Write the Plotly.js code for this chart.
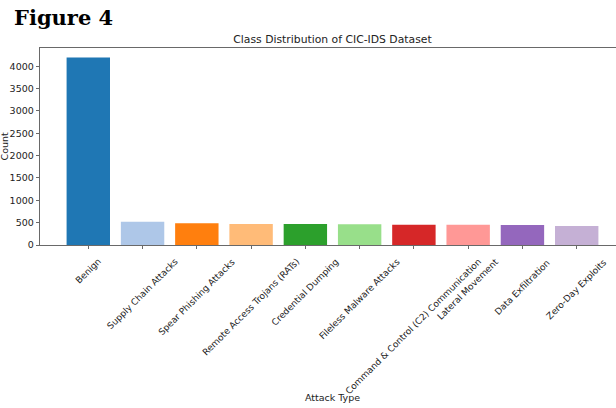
<!DOCTYPE html>
<html>
<head>
<meta charset="utf-8">
<script src="https://cdn.plot.ly/plotly-3.0.1.min.js"></script>
<style>
html, body { margin: 0; padding: 0; width: 616px; height: 408px; overflow: hidden; background: #fff; }
#chart { width: 640px; height: 408px; }
</style>
</head>
<body>
<div id="chart"></div>
<script>
const categories = [
  "Benign",
  "Supply Chain Attacks",
  "Spear Phishing Attacks",
  "Remote Access Trojans (RATs)",
  "Credential Dumping",
  "Fileless Malware Attacks",
  "Command & Control (C2) Communication",
  "Lateral Movement",
  "Data Exfiltration",
  "Zero-Day Exploits"
];
const counts = [4200, 520, 485, 470, 468, 465, 455, 452, 450, 425];
const barColors = ["#1f77b4", "#aec7e8", "#ff7f0e", "#ffbb78", "#2ca02c",
                   "#98df8a", "#d62728", "#ff9896", "#9467bd", "#c5b0d5"];
const yTicks = [0, 500, 1000, 1500, 2000, 2500, 3000, 3500, 4000];

const W = 640, H = 408;
const mL = 40, mR = 15, mT = 48, mB = 163;
const plotW = W - mL - mR;
const plotH = H - mT - mB;
const font = "DejaVu Sans, sans-serif";

const tickAnnotations = categories.map((c, i) => ({
  x: i, xref: "x",
  y: -9 / plotH, yref: "paper",
  text: c, showarrow: false,
  textangle: -45,
  xanchor: "center", yanchor: "top",
  font: { family: font, size: 9, color: "#222" }
}));

const data = [{
  type: "bar",
  x: categories.map((c, i) => i),
  y: counts,
  width: 0.8,
  marker: { color: barColors, line: { width: 0 } },
  hoverinfo: "x+y"
}];

const layout = {
  width: W, height: H,
  margin: { l: mL, r: mR, t: mT, b: mB, pad: 0 },
  paper_bgcolor: "#fff", plot_bgcolor: "#fff",
  showlegend: false,
  font: { family: font, color: "#222" },
  title: {
    text: "Class Distribution of CIC-IDS Dataset",
    font: { family: font, size: 10.8, color: "#222" },
    x: (mL + plotW / 2) / W, xanchor: "center",
    y: 1 - 39 / H, yanchor: "middle"
  },
  xaxis: {
    range: [-0.89, 9.89],
    tickmode: "array", tickvals: categories.map((c, i) => i),
    showticklabels: false,
    ticks: "outside", ticklen: 3.5, tickwidth: 0.8, tickcolor: "#444",
    showline: true, linecolor: "#444", linewidth: 0.8, mirror: true,
    showgrid: false, zeroline: false,
    title: { text: "Attack Type", font: { family: font, size: 9.5, color: "#222" }, standoff: 145 }
  },
  yaxis: {
    range: [0, 4410],
    tickmode: "array", tickvals: yTicks,
    ticks: "outside", ticklen: 3.5, tickwidth: 0.8, tickcolor: "#444",
    tickfont: { family: font, size: 9.5, color: "#222" },
    showline: true, linecolor: "#444", linewidth: 0.8, mirror: true,
    showgrid: false, zeroline: false
  },
  annotations: [
    {
      text: "<b>Figure 4</b>", xref: "paper", yref: "paper",
      x: (12 - mL) / plotW, y: 1 + (mT - 18) / plotH,
      xanchor: "left", yanchor: "middle", showarrow: false,
      font: { family: "DejaVu Serif, serif", size: 21, color: "#000" }
    },
    {
      text: "Count", xref: "paper", yref: "paper",
      x: (4 - mL) / plotW, y: 0.5,
      xanchor: "center", yanchor: "middle", showarrow: false,
      textangle: -90,
      font: { family: font, size: 9.5, color: "#222" }
    }
  ].concat(tickAnnotations)
};

Plotly.newPlot("chart", data, layout, { displayModeBar: false, staticPlot: true });
</script>
</body>
</html>
